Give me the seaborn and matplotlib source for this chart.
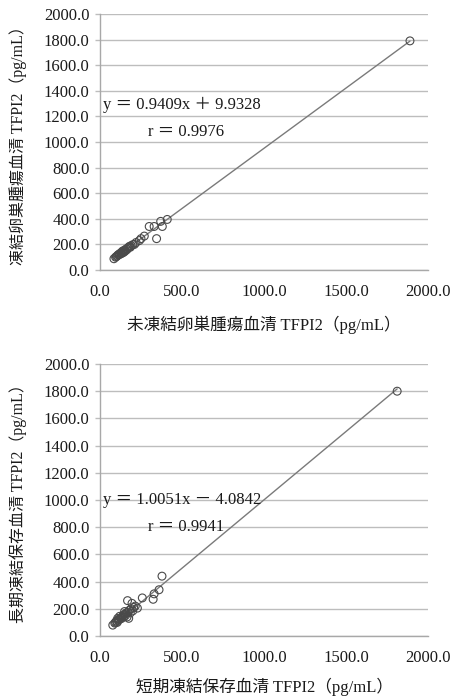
import numpy as np
import pandas as pd
import matplotlib
matplotlib.use("Agg")
import matplotlib.pyplot as plt
import seaborn as sns

# ---------------- data ----------------
top_x = [85, 95, 100, 105, 110, 115, 118, 120, 125, 128, 130, 135, 138, 140, 145,
         148, 150, 155, 160, 165, 170, 175, 180, 185, 190, 200, 210, 220, 240, 250,
         270, 300, 330, 345, 370, 380, 410, 1890]
top_y = [88, 100, 105, 110, 118, 120, 125, 122, 130, 135, 128, 140, 148, 135, 150,
         142, 155, 150, 165, 160, 172, 178, 185, 178, 190, 198, 200, 215, 230, 245,
         265, 340, 340, 245, 380, 340, 395, 1790]
top_slope, top_icpt, top_r = 0.9409, 9.9328, 0.9976

bot_x = [78, 90, 95, 100, 105, 108, 110, 115, 118, 120, 125, 130, 135, 140, 145,
         150, 150, 155, 160, 165, 168, 170, 175, 180, 185, 190, 195, 200, 205, 215,
         228, 258, 324, 330, 360, 378, 1812]
bot_y = [80, 95, 100, 110, 100, 130, 115, 120, 125, 145, 130, 128, 140, 150, 140,
         180, 160, 150, 170, 140, 260, 175, 130, 190, 170, 200, 240, 185, 210, 220,
         205, 280, 270, 310, 340, 440, 1800]
bot_slope, bot_icpt, bot_r = 1.0051, -4.0842, 0.9941

ticks = [0, 200, 400, 600, 800, 1000, 1200, 1400, 1600, 1800, 2000]
xticks = [0, 500, 1000, 1500, 2000]

top_xlabel = "未凍結卵巣腫瘍血清 TFPI2（pg/mL）"
top_ylabel = "凍結卵巣腫瘍血清 TFPI2（pg/mL）"
bot_xlabel = "短期凍結保存血清 TFPI2（pg/mL）"
bot_ylabel = "長期凍結保存血清 TFPI2（pg/mL）"
top_eq = "y ＝ 0.9409x ＋ 9.9328"
bot_eq = "y ＝ 1.0051x － 4.0842"
top_rtxt = "r ＝ 0.9976"
bot_rtxt = "r ＝ 0.9941"

# ---------------- style ----------------
sns.set_theme(style="white")
FAM = ["Liberation Serif", "Noto Sans CJK JP", "DejaVu Sans"]
plt.rcParams["font.family"] = FAM

W, H = 454, 698
fig = plt.figure(figsize=(W / 100, H / 100), dpi=100)

GRID = "#bdbdbd"
SPINE = "#a8a8a8"
TXT = "#1a1a1a"


def panel(rect_px, xs, ys, slope, icpt, eq, rtxt, eqpos, rpos, xlabel, ylabel, xl_y):
    l, t, r, b = rect_px
    ax = fig.add_axes([l / W, 1 - b / H, (r - l) / W, (b - t) / H])
    df = pd.DataFrame({"x": xs, "y": ys})
    xfit = np.array([min(xs), max(xs)], dtype=float)
    fit = pd.DataFrame({"x": xfit, "y": slope * xfit + icpt})
    sns.lineplot(data=fit, x="x", y="y", ax=ax, color="#7a7a7a", linewidth=1.0, zorder=2)
    sns.scatterplot(data=df, x="x", y="y", ax=ax, marker="o", s=32,
                    facecolor="none", edgecolor="#4a4a4a", linewidth=0.8, zorder=3)
    ax.set_xlim(0, 2000)
    ax.set_ylim(0, 2000)
    ax.set_xticks(xticks)
    ax.set_yticks(ticks)
    ax.set_xticklabels([f"{v:.1f}" for v in xticks])
    ax.set_yticklabels([f"{v:.1f}" for v in ticks])
    ax.yaxis.grid(True, color=GRID, linewidth=1.0)
    ax.xaxis.grid(False)
    ax.set_axisbelow(True)
    for s in ["top", "right"]:
        ax.spines[s].set_visible(False)
    for s in ["left", "bottom"]:
        ax.spines[s].set_color(SPINE)
        ax.spines[s].set_linewidth(1.0)
    ax.tick_params(axis="y", length=3.5, width=1.0, color=GRID, pad=4,
                   labelsize=12, labelcolor=TXT, left=True)
    ax.tick_params(axis="x", length=0, pad=10, labelsize=12, labelcolor=TXT)
    ax.set_xlabel(xlabel, fontsize=12, color=TXT)
    ax.set_ylabel(ylabel, fontsize=11.5, color=TXT)
    ax.xaxis.label.set_va("center")
    ax.yaxis.label.set_va("center")
    ax.yaxis.set_label_coords((18 - l) / (r - l), 0.5)
    ax.xaxis.set_label_coords(0.5, (b - xl_y) / (b - t))
    ax.text(eqpos[0], eqpos[1], eq, fontsize=12, ha="left", va="center", color=TXT)
    ax.text(rpos[0], rpos[1], rtxt, fontsize=12, ha="left", va="center", color=TXT)
    return ax


panel((100, 14, 428, 270), top_x, top_y, top_slope, top_icpt, top_eq, top_rtxt,
      (20, 1290), (290, 1080), top_xlabel, top_ylabel, 325)
panel((100, 364, 428, 636), bot_x, bot_y, bot_slope, bot_icpt, bot_eq, bot_rtxt,
      (20, 1000), (290, 800), bot_xlabel, bot_ylabel, 687)

fig.savefig("out.png", dpi=100)
